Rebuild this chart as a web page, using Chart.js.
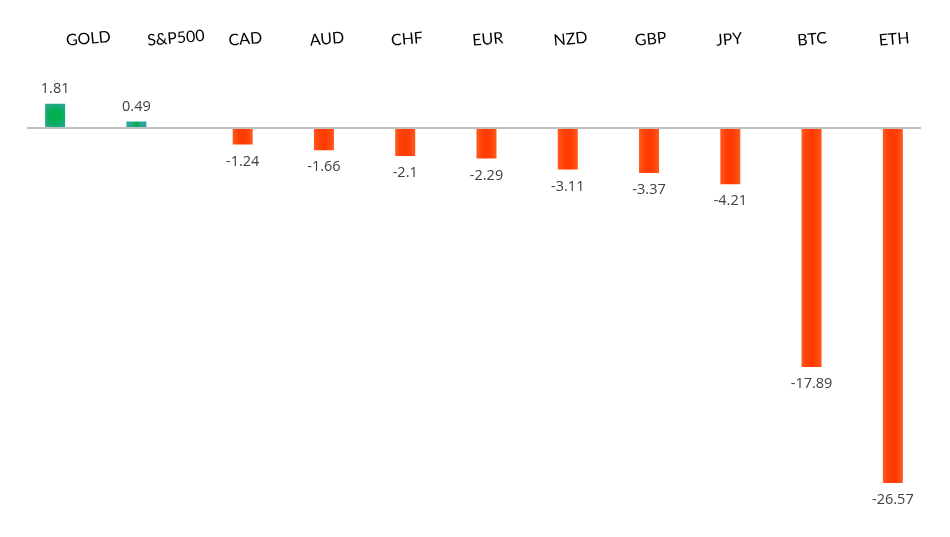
<!DOCTYPE html>
<html>
<head>
<meta charset="utf-8">
<script src="https://cdn.jsdelivr.net/npm/chart.js@4.4.0/dist/chart.umd.min.js"></script>
<style>
  html, body { margin: 0; padding: 0; background: #fff; }
  #wrap { width: 950px; height: 537px; }
</style>
</head>
<body>
<div id="wrap"><canvas id="grafico"></canvas></div>
<script>
const categorias = ['GOLD', 'S&P500', 'CAD', 'AUD', 'CHF', 'EUR', 'NZD', 'GBP', 'JPY', 'BTC', 'ETH'];
const variacao = [1.81, 0.49, -1.24, -1.66, -2.1, -2.29, -3.11, -3.37, -4.21, -17.89, -26.57];
const positivos = variacao.map(v => v > 0 ? v : null);
const negativos = variacao.map(v => v < 0 ? v : null);

// degradê do verde: centro verde, borda azulada
function corVerde(ctx) {
  const chart = ctx.chart;
  const area = chart.chartArea;
  if (!area || ctx.raw == null) return '#00b050';
  const x = chart.scales.x.getPixelForValue(ctx.dataIndex) - 12.5;
  const yTopo = chart.scales.y.getPixelForValue(ctx.raw);
  const yBase = chart.scales.y.getPixelForValue(0);
  const cy = (yTopo + yBase) / 2;
  const r = Math.min(10, (yBase - yTopo) / 2) * 1.45;
  const g = chart.ctx.createRadialGradient(x, cy, 0, x, cy, Math.max(r, 1));
  g.addColorStop(0, '#00b050');
  g.addColorStop(0.45, '#05af55');
  g.addColorStop(1, '#2ea59a');
  return g;
}

// degradê do laranja: centro vermelho, laterais mais claras
function corLaranja(ctx) {
  const chart = ctx.chart;
  const area = chart.chartArea;
  if (!area) return '#ff3d00';
  const x = chart.scales.x.getPixelForValue(ctx.dataIndex) + 12.5;
  const g = chart.ctx.createLinearGradient(x - 10, 0, x + 10, 0);
  g.addColorStop(0, '#ff5a1e');
  g.addColorStop(0.3, '#ff4006');
  g.addColorStop(0.5, '#ff3b00');
  g.addColorStop(0.7, '#ff4006');
  g.addColorStop(1, '#ff5a1e');
  return g;
}

const linhaZero = {
  id: 'linhaZero',
  afterDatasetsDraw(chart) {
    const { ctx, chartArea, scales } = chart;
    const y = scales.y.getPixelForValue(0);
    ctx.save();
    ctx.strokeStyle = '#bfbfbf';
    ctx.lineWidth = 2;
    ctx.beginPath();
    ctx.moveTo(chartArea.left, y);
    ctx.lineTo(chartArea.right, y);
    ctx.stroke();
    ctx.restore();
  }
};

const rotulosValores = {
  id: 'rotulosValores',
  afterDatasetsDraw(chart) {
    const ctx = chart.ctx;
    ctx.save();
    ctx.font = '14.5px "Open Sans"';
    ctx.fillStyle = '#404040';
    ctx.textAlign = 'center';
    ctx.textBaseline = 'middle';
    chart.data.datasets.forEach((ds, i) => {
      chart.getDatasetMeta(i).data.forEach((bar, j) => {
        const v = ds.data[j];
        if (v == null) return;
        const y = v > 0 ? bar.y - 15 : bar.y + 17;
        ctx.fillText(String(v), bar.x, y);
      });
    });
    ctx.restore();
  }
};

new Chart(document.getElementById('grafico'), {
  type: 'bar',
  data: {
    labels: categorias,
    datasets: [
      {
        label: 'alta',
        data: positivos,
        backgroundColor: corVerde,
        categoryPercentage: 0.615,
        barPercentage: 0.8
      },
      {
        label: 'queda',
        data: negativos,
        backgroundColor: corLaranja,
        categoryPercentage: 0.615,
        barPercentage: 0.8
      }
    ]
  },
  options: {
    responsive: true,
    maintainAspectRatio: false,
    animation: false,
    layout: { padding: { left: 27, right: 29, top: 0, bottom: 8.2 } },
    plugins: {
      legend: { display: false },
      tooltip: { enabled: false }
    },
    scales: {
      x: {
        position: 'top',
        grid: { display: false },
        border: { display: false },
        afterFit(scale) { scale.height = 61.2; },
        ticks: {
          autoSkip: false,
          minRotation: 5,
          maxRotation: 5,
          padding: 3,
          color: '#000',
          font: { family: 'Lato', size: 16 }
        }
      },
      y: {
        display: false,
        min: -30,
        max: 5
      }
    }
  },
  plugins: [linhaZero, rotulosValores]
});
</script>
</body>
</html>
